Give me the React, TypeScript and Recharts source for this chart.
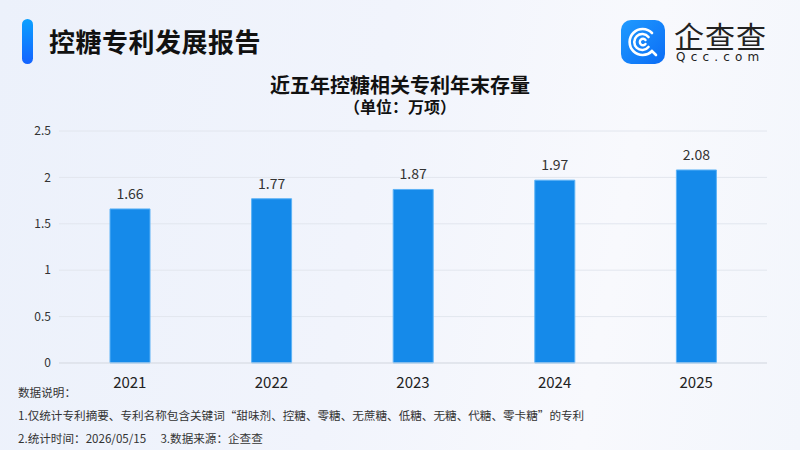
import React from "react";
import {
  BarChart,
  Bar,
  XAxis,
  YAxis,
  CartesianGrid,
  LabelList,
} from "recharts";

const years = ["2021", "2022", "2023", "2024", "2025"];
const stock = [1.66, 1.77, 1.87, 1.97, 2.08];
const yTicks = [0, 0.5, 1, 1.5, 2, 2.5];

const notes = [
  "数据说明：",
  "1.仅统计专利摘要、专利名称包含关键词“甜味剂、控糖、零糖、无蔗糖、低糖、无糖、代糖、零卡糖”的专利",
  "2.统计时间：2026/05/15　 3.数据来源：企查查",
];

const data = years.map((y, i) => ({ year: y, value: stock[i] }));

const CJK = '"Noto Sans CJK SC", "Noto Sans", sans-serif';

const Logo = () => (
  <svg
    width={44}
    height={44}
    viewBox="0 0 44 44"
    style={{ position: "absolute", left: 621, top: 20 }}
  >
    <defs>
      <linearGradient id="lg" x1="0" y1="0" x2="1" y2="1">
        <stop offset="0%" stopColor="#1f9bff" />
        <stop offset="100%" stopColor="#0b6cf5" />
      </linearGradient>
    </defs>
    <rect x={0} y={0} width={44} height={44} rx={10} fill="url(#lg)" />
    <path
      d="M31 13 A13 13 0 1 0 31 31 L35 35"
      fill="none"
      stroke="#fff"
      strokeWidth={2.6}
      strokeLinecap="round"
    />
    <path
      d="M27.5 17 A8 8 0 1 0 27.5 27"
      fill="none"
      stroke="#fff"
      strokeWidth={2.6}
      strokeLinecap="round"
    />
    <path
      d="M24.5 20 A3.2 3.2 0 1 0 24.5 24"
      fill="none"
      stroke="#fff"
      strokeWidth={2.4}
      strokeLinecap="round"
    />
  </svg>
);

export default function App() {
  return (
    <div
      style={{
        position: "absolute",
        left: 0,
        top: 0,
        width: 800,
        height: 450,
        overflow: "hidden",
        background:
          "linear-gradient(100deg, #ecf1fb 0%, #f1f4fc 45%, #f8f9fd 75%, #f3f6fc 100%)",
        fontFamily: CJK,
      }}
    >
      {/* header */}
      <div
        style={{
          position: "absolute",
          left: 22,
          top: 19,
          width: 11,
          height: 45,
          borderRadius: 6,
          background: "linear-gradient(180deg, #0aa0ff, #1463ff)",
        }}
      />
      <div
        style={{
          position: "absolute",
          left: 49,
          top: 22,
          fontSize: 26,
          fontWeight: 700,
          color: "#111",
          lineHeight: "38px",
          letterSpacing: 0.5,
        }}
      >
        控糖专利发展报告
      </div>
      <Logo />
      <div
        style={{
          position: "absolute",
          left: 674,
          top: 20,
          fontSize: 30,
          fontWeight: 400,
          color: "#222",
          lineHeight: "30px",
          letterSpacing: 1,
        }}
      >
        企查查
      </div>
      <div
        style={{
          position: "absolute",
          left: 676,
          top: 51,
          fontSize: 12,
          color: "#222",
          lineHeight: "13px",
          letterSpacing: 5.2,
          fontFamily: '"DejaVu Sans", sans-serif',
        }}
      >
        Qcc.com
      </div>

      {/* chart title */}
      <div
        style={{
          position: "absolute",
          left: 0,
          width: 800,
          top: 73,
          textAlign: "center",
          fontSize: 20,
          fontWeight: 700,
          color: "#111",
          lineHeight: "24px",
        }}
      >
        近五年控糖相关专利年末存量
      </div>
      <div
        style={{
          position: "absolute",
          left: 0,
          width: 800,
          top: 97,
          textAlign: "center",
          fontSize: 16,
          fontWeight: 700,
          color: "#111",
          lineHeight: "18px",
        }}
      >
        （单位：万项）
      </div>

      <div style={{ position: "absolute", left: 0, top: 0 }}>
        <BarChart
          width={800}
          height={450}
          data={data}
          margin={{ top: 131, right: 33, left: 9, bottom: 57 }}
          barSize={40}
        >
          <CartesianGrid vertical={false} stroke="#e2e6ee" />
          <XAxis
            dataKey="year"
            axisLine={{ stroke: "#d9dde5" }}
            tickLine={false}
            tickMargin={8}
            height={30}
            tick={{ fill: "#222", fontSize: 15, fontFamily: CJK, fontWeight: 400 }}
          />
          <YAxis
            width={50}
            domain={[0, 2.5]}
            ticks={yTicks}
            axisLine={false}
            tickLine={false}
            tick={{ fill: "#333", fontSize: 12, fontFamily: CJK }}
          />
          <Bar
            dataKey="value"
            fill="#158aea"
            stroke="#5cb2f6"
            strokeWidth={1}
            isAnimationActive={false}
          >
            <LabelList
              dataKey="value"
              position="top"
              offset={10}
              fill="#333"
              fontSize={14}
              fontFamily={CJK}
            />
          </Bar>
        </BarChart>
      </div>

      {/* notes */}
      {notes.map((t, i) => (
        <div
          key={i}
          style={{
            position: "absolute",
            left: 18,
            top: 385 + i * 23,
            fontSize: 11.6,
            color: "#333",
            lineHeight: "14px",
            whiteSpace: "pre",
          }}
        >
          {t}
        </div>
      ))}
    </div>
  );
}
